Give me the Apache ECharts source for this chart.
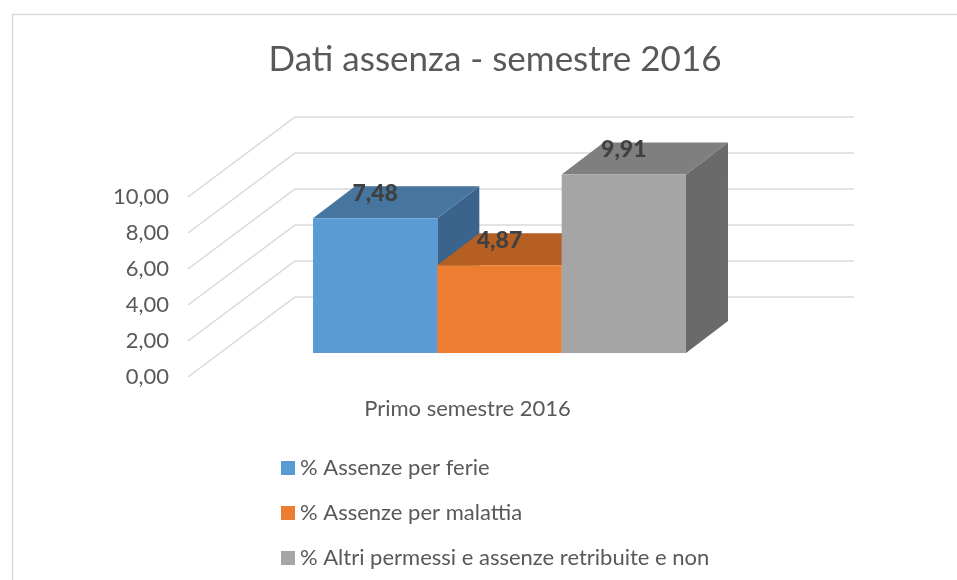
<!DOCTYPE html>
<html>
<head>
<meta charset="utf-8">
<script src="https://cdn.jsdelivr.net/npm/echarts@6/dist/echarts.min.js"></script>
<style>
html,body{margin:0;padding:0;background:#fff;}
#chart{width:957px;height:580px;}
</style>
</head>
<body>
<div id="chart"></div>
<script>
// ---- data ----
const categories = ['Primo semestre 2016'];
const seriesNames = ['% Assenze per ferie', '% Assenze per malattia', '% Altri permessi e assenze retribuite e non'];
const feriaValues = [7.48];
const malattiaValues = [4.87];
const altriValues = [9.91];
const yTicks = [0, 2, 4, 6, 8, 10];

// ---- style ----
const FONT = 'Lato';
const TEXT = '#595959';
const GRID = '#d9d9d9';
const faceColors = [
  {front: '#5b9bd5', top: '#4675a0', side: '#3a648b'},
  {front: '#ed7d31', top: '#b55f23', side: '#9e5220'},
  {front: '#a5a5a5', top: '#7f7f7f', side: '#6a6a6a'}
];
const WALL = [107, -80];     // full depth offset of the walls
const BAR_FRONT = [32, -24]; // front face of bars
const BAR_BACK = [74, -56];  // back face of bars
const BAR_FRAC = 0.2224;     // bar width as fraction of the category band

function fmt(v) { return v.toFixed(2).replace('.', ','); }

function wallRender(params, api) {
  const v = api.value(1);
  const band = api.size([1, 0])[0];
  const c = api.coord([0, v]);
  const x0 = c[0] - band / 2, x1 = c[0] + band / 2, y = c[1];
  return {
    type: 'polyline',
    shape: {points: [[x0, y], [x0 + WALL[0], y + WALL[1]], [x1 + WALL[0], y + WALL[1]]]},
    style: {stroke: GRID, lineWidth: 1.5, fill: null},
    silent: true
  };
}

function barRender(idx) {
  return function (params, api) {
    const val = api.value(1);
    const band = api.size([1, 0])[0];
    const base = api.coord([api.value(0), 0]);
    const topC = api.coord([api.value(0), val]);
    const w = band * BAR_FRAC;
    const fx = base[0] - 1.5 * w + idx * w + BAR_FRONT[0];
    const by = base[1] + BAR_FRONT[1];
    const ty = topC[1] + BAR_FRONT[1];
    const ddx = BAR_BACK[0] - BAR_FRONT[0], ddy = BAR_BACK[1] - BAR_FRONT[1];
    const col = faceColors[idx];
    return {
      type: 'group',
      children: [
        {type: 'polygon', shape: {points: [[fx + w, ty], [fx + w + ddx, ty + ddy], [fx + w + ddx, by + ddy], [fx + w, by]]}, style: {fill: col.side}},
        {type: 'polygon', shape: {points: [[fx, ty], [fx + w, ty], [fx + w + ddx, ty + ddy], [fx + ddx, ty + ddy]]}, style: {fill: col.top}},
        {type: 'rect', shape: {x: fx, y: ty, width: w, height: by - ty}, style: {fill: col.front}},
        {type: 'text', x: fx + w / 2, y: ty - 25, z2: 10,
         style: {text: fmt(val), fill: '#404040', fontFamily: FONT, fontSize: 23, fontWeight: 900, align: 'center', verticalAlign: 'middle'}}
      ]
    };
  };
}

const chart = echarts.init(document.getElementById('chart'), null, {renderer: 'canvas'});
const valueLists = [feriaValues, malattiaValues, altriValues];

const option = {
  animation: false,
  backgroundColor: '#fff',
  title: {
    text: 'Dati assenza - semestre 2016',
    left: 490, top: 37, textAlign: 'center',
    textStyle: {fontFamily: FONT, fontSize: 35, fontWeight: 'normal', color: TEXT}
  },
  graphic: [{
    type: 'rect', left: 10, top: 12, silent: true,
    shape: {x: 0, y: 0, width: 1000, height: 700},
    style: {fill: null, stroke: GRID, lineWidth: 1.5}
  }],
  legend: {
    orient: 'vertical', left: 276, top: 451,
    data: seriesNames,
    icon: 'rect', itemWidth: 14, itemHeight: 14, itemGap: 21,
    textStyle: {fontFamily: FONT, fontSize: 22, color: TEXT, lineHeight: 24}
  },
  grid: {left: 188, right: 210, top: 197, bottom: 203, containLabel: false},
  xAxis: {
    type: 'category', data: categories,
    axisLine: {show: false}, axisTick: {show: false}, splitLine: {show: false},
    axisLabel: {margin: 21, fontFamily: FONT, fontSize: 22, color: TEXT}
  },
  yAxis: {
    type: 'value', min: 0, max: 10, interval: 2,
    axisLine: {show: false}, axisTick: {show: false}, splitLine: {show: false},
    axisLabel: {margin: 19, fontFamily: FONT, fontSize: 22, color: TEXT, formatter: fmt}
  },
  series: [
    {
      type: 'custom', name: 'walls', clip: false, silent: true, z: 1,
      encode: {x: 0, y: 1},
      data: yTicks.map(v => [0, v]),
      renderItem: wallRender
    }
  ].concat(seriesNames.map((name, i) => ({
    type: 'custom', name: name, clip: false, z: 2 + i,
    itemStyle: {color: faceColors[i].front},
    encode: {x: 0, y: 1},
    data: valueLists[i].map((v, j) => [j, v]),
    renderItem: barRender(i)
  })))
};
chart.setOption(option);
</script>
</body>
</html>
